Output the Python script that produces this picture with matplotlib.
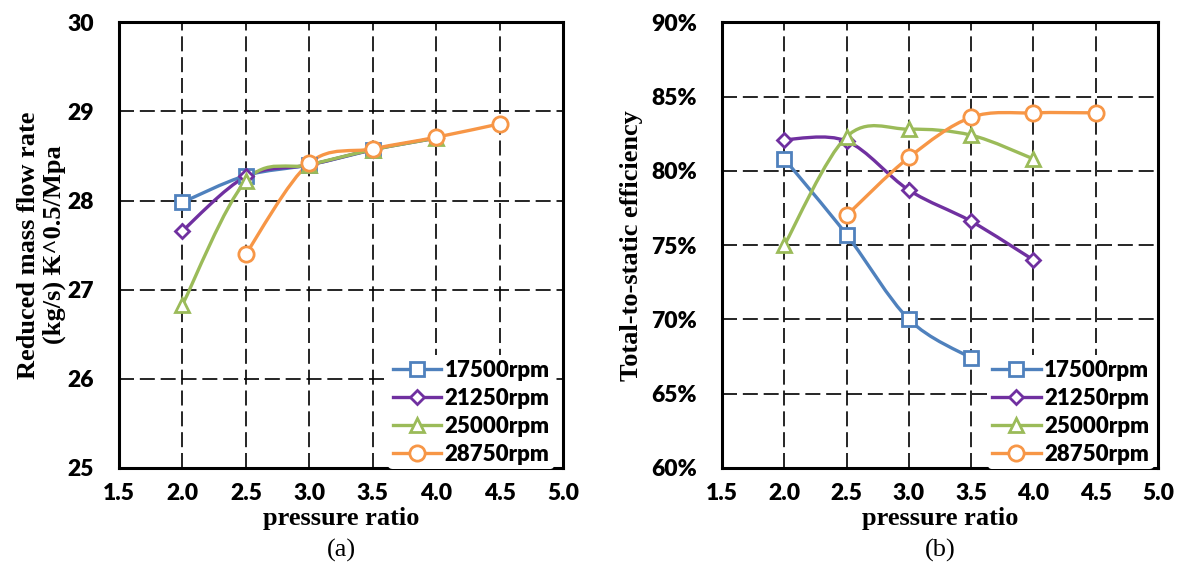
# Compressor maps: reduced mass flow (a) and total-to-static efficiency (b)
import matplotlib
matplotlib.use('Agg')
import matplotlib.pyplot as plt
from matplotlib.path import Path
from matplotlib.patches import PathPatch
from matplotlib.ticker import FuncFormatter

# speed lines
speeds = ['17500rpm', '21250rpm', '25000rpm', '28750rpm']

# pressure ratio for each speed line
pr_17500 = [2.0, 2.5, 3.0, 3.5]
pr_21250 = [2.0, 2.5, 3.0, 3.5, 4.0]
pr_25000 = [2.0, 2.5, 3.0, 3.5, 4.0]
pr_28750 = [2.5, 3.0, 3.5, 4.0, 4.5]

# (a) reduced mass flow rate
mf_17500 = [27.98, 28.28, 28.40, 28.57]
mf_21250 = [27.66, 28.27, 28.40, 28.57, 28.70]
mf_25000 = [26.83, 28.22, 28.40, 28.57, 28.70]
mf_28750 = [27.40, 28.42, 28.58, 28.71, 28.86]

# (b) total-to-static efficiency (%)
eff_17500 = [80.8, 75.7, 70.0, 67.4]
eff_21250 = [82.1, 82.0, 78.7, 76.6, 74.0]
eff_25000 = [75.0, 82.3, 82.8, 82.4, 80.8]
eff_28750 = [77.0, 80.9, 83.6, 83.9, 83.9]

xticks = [1.5, 2.0, 2.5, 3.0, 3.5, 4.0, 4.5, 5.0]
mf_ticks = [25, 26, 27, 28, 29, 30]
eff_ticks = [60, 65, 70, 75, 80, 85, 90]

# Excel 2010 style colours
kBlue = '#4F81BD'
kPurple = '#7030A0'
kGreen = '#9BBB59'
kOrange = '#F79646'
colours = [kBlue, kPurple, kGreen, kOrange]
markers = ['s', 'D', '^', 'o']
msizes = [10, 7.5, 10, 11]

tick_font = 'Lato'
label_font = ['Liberation Serif', 'DejaVu Serif']


def smooth_path(xs, ys):
    # Excel-like smoothed line: cubic bezier with catmull-rom control points
    pts = list(zip(xs, ys))
    n = len(pts)
    verts = [pts[0]]
    codes = [Path.MOVETO]
    for i in range(n - 1):
        p0 = pts[i - 1] if i > 0 else pts[i]
        p1 = pts[i]
        p2 = pts[i + 1]
        p3 = pts[i + 2] if i + 2 < n else pts[i + 1]
        c1 = (p1[0] + (p2[0] - p0[0]) / 6.0, p1[1] + (p2[1] - p0[1]) / 6.0)
        c2 = (p2[0] - (p3[0] - p1[0]) / 6.0, p2[1] - (p3[1] - p1[1]) / 6.0)
        verts += [c1, c2, p2]
        codes += [Path.CURVE4] * 3
    return Path(verts, codes)


def draw_panel(ax, series, yticks, yfmt, ylabel, caption, legend_anchor, ylabelpad):
    for (xs, ys), c, m, ms, lab in zip(series, colours, markers, msizes, speeds):
        patch = PathPatch(smooth_path(xs, ys), facecolor='none', edgecolor=c,
                          lw=2.4, zorder=3, capstyle='round')
        ax.add_patch(patch)
        ax.plot(xs, ys, linestyle='', marker=m, markersize=ms, markerfacecolor='white',
                markeredgecolor=c, markeredgewidth=2.0, zorder=4)
        # legend proxy
        ax.plot([], [], color=c, lw=2.4, marker=m, markersize=ms, markerfacecolor='white',
                markeredgecolor=c, markeredgewidth=2.0, label=lab)

    ax.set_xlim(xticks[0], xticks[-1])
    ax.set_ylim(yticks[0], yticks[-1])
    ax.set_xticks(xticks)
    ax.set_yticks(yticks)
    ax.xaxis.set_major_formatter(FuncFormatter(lambda v, p: '%.1f' % v))
    ax.yaxis.set_major_formatter(FuncFormatter(yfmt))
    ax.tick_params(length=0, labelsize=16.5)
    ax.tick_params(axis='y', pad=18)
    ax.tick_params(axis='x', pad=11)
    for t in ax.get_xticklabels() + ax.get_yticklabels():
        t.set_fontfamily(tick_font)
        t.set_fontweight('heavy')

    ax.grid(True, color='black', linestyle=(0, (9, 3.5)), linewidth=1.2, zorder=1)
    ax.set_axisbelow(True)
    for s in ax.spines.values():
        s.set_linewidth(2.2)
        s.set_color('black')
        s.set_zorder(5)

    ax.set_ylabel(ylabel, family=label_font, fontweight='bold', fontsize=19,
                  linespacing=1.15, labelpad=ylabelpad)
    ax.set_xlabel('pressure ratio', family=label_font, fontweight='bold', fontsize=19,
                  va='center')
    ax.xaxis.set_label_coords(0.5, -0.114)
    ax.text(0.5, -0.184, caption, transform=ax.transAxes, ha='center', va='center',
            family=label_font, fontsize=19)

    leg = ax.legend(loc='lower right', bbox_to_anchor=legend_anchor, frameon=True,
                    handlelength=2.2, labelspacing=0.32, borderpad=0.2,
                    handletextpad=0.15, borderaxespad=0.0,
                    prop={'family': tick_font, 'weight': 'heavy', 'size': 16})
    leg.get_frame().set_edgecolor('none')
    leg.get_frame().set_facecolor('white')
    leg.get_frame().set_alpha(1.0)
    leg.set_zorder(6)


fig = plt.figure(figsize=(11.78, 5.70), dpi=100)
axA = fig.add_axes([0.101, 0.179, 0.377, 0.782])
axB = fig.add_axes([0.613, 0.179, 0.370, 0.782])

mf_series = [(pr_17500, mf_17500), (pr_21250, mf_21250),
             (pr_25000, mf_25000), (pr_28750, mf_28750)]
eff_series = [(pr_17500, eff_17500), (pr_21250, eff_21250),
              (pr_25000, eff_25000), (pr_28750, eff_28750)]

draw_panel(axA, mf_series, mf_ticks, lambda v, p: '%d' % v,
           'Reduced mass flow rate\n(kg/s) \u20ad^0.5/Mpa', '(a)', (0.98, -0.003), 1)
draw_panel(axB, eff_series, eff_ticks, lambda v, p: '%d%%' % v,
           'Total-to-static efficiency', '(b)', (0.99, -0.003), 6)

fig.savefig('out.png', dpi=100)
